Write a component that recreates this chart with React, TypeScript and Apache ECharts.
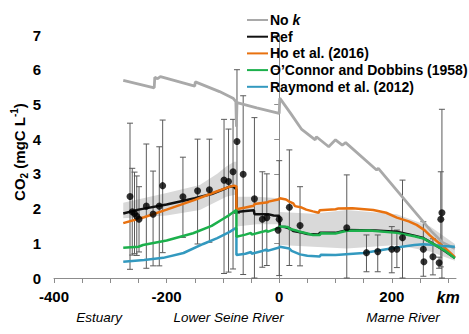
import React, { useEffect, useRef } from "react";
import * as echarts from "echarts";

const FONT = "'Liberation Sans', Arial, Helvetica, sans-serif";

const seriesNames = ["No k", "Ref", "Ho et al. (2016)", "O\u2019Connor and Dobbins (1958)", "Raymond et al. (2012)"];
const seriesColors = ["#a9a9a9", "#111111", "#e8710f", "#1cb04c", "#3399bf"];

const xTicks = [-400, -350, -300, -250, -200, -150, -100, -50, 0, 50, 100, 150, 200, 250, 300];
const xLabels = [-400, -200, 0, 200, 300];
const regionLabels = ["Estuary", "Lower Seine River", "Marne River"];
const regionKm = [-320, -90, 220];

const noK = [
  [-277, 5.69], [-222, 5.48], [-221, 5.78], [-216, 5.74], [-211, 5.8], [-150, 5.53], [-149, 5.65],
  [-106, 5.37], [-82, 5.18], [-77, 5.08], [-76, 4.36], [-75, 5.05], [-40, 4.9], [0, 4.74], [1, 5.18],
  [20, 4.75], [40, 4.28], [64, 3.98], [66, 4.07], [88, 3.78], [90, 3.82], [100, 3.98], [112, 3.83],
  [118, 3.9], [173, 3.11], [176, 3.16], [238, 1.96], [270, 1.35], [290, 1.02], [312, 0.85],
];
const ref = [
  [-277, 1.86], [-250, 1.97], [-200, 2.12], [-150, 2.3], [-120, 2.42], [-100, 2.55], [-90, 2.62],
  [-82, 2.64], [-78, 2.58], [-76, 2.55], [-76, 1.9], [-60, 1.93], [-45, 1.95], [-44, 1.84], [-20, 1.84],
  [-10, 1.8], [0, 1.79], [1, 1.48], [10, 1.47], [20, 1.42], [25, 1.35], [40, 1.31], [50, 1.27],
  [70, 1.25], [72, 1.3], [100, 1.3], [120, 1.38], [170, 1.37], [209, 1.33], [240, 1.22], [256, 1.15],
  [270, 1.02], [290, 0.82], [312, 0.58],
];
const ho = [
  [-277, 1.58], [-240, 1.75], [-200, 1.97], [-150, 2.25], [-110, 2.5], [-90, 2.62], [-80, 2.66],
  [-76, 2.64], [-76, 1.98], [-60, 2.03], [-45, 2.08], [-44, 2.13], [-20, 2.18], [-19, 2.2], [0, 2.27],
  [1, 2.3], [12, 2.26], [18, 2.2], [25, 2.15], [28, 2.07], [40, 2.03], [48, 1.97], [60, 1.92],
  [70, 1.88], [72, 1.95], [100, 1.98], [105, 2.0], [130, 2.01], [167, 1.96], [190, 1.88], [209, 1.74],
  [230, 1.63], [244, 1.53], [258, 1.38], [268, 1.22], [280, 1.06], [292, 0.9], [312, 0.6],
];
const oConnor = [
  [-277, 0.87], [-250, 0.9], [-242, 0.95], [-200, 1.08], [-153, 1.29], [-120, 1.5], [-100, 1.7],
  [-88, 1.82], [-78, 1.94], [-76, 1.96], [-76, 1.19], [-60, 1.25], [-50, 1.3], [-49, 1.25], [-30, 1.33],
  [-22, 1.37], [-21, 1.33], [0, 1.45], [1, 1.48], [15, 1.47], [18, 1.42], [30, 1.37], [37, 1.33],
  [50, 1.28], [60, 1.24], [72, 1.24], [74, 1.29], [100, 1.28], [120, 1.36], [160, 1.37], [209, 1.3],
  [240, 1.2], [256, 1.14], [275, 0.97], [295, 0.78], [312, 0.57],
];
const raymond = [
  [-277, 0.47], [-240, 0.52], [-206, 0.58], [-170, 0.72], [-135, 0.98], [-110, 1.15], [-88, 1.33],
  [-78, 1.43], [-76, 1.44], [-76, 0.66], [-60, 0.7], [-50, 0.75], [-49, 0.7], [-30, 0.78], [-22, 0.82],
  [-21, 0.78], [0, 0.88], [1, 0.9], [18, 0.85], [22, 0.78], [37, 0.68], [50, 0.64], [72, 0.62],
  [74, 0.67], [100, 0.66], [150, 0.72], [209, 0.88], [240, 0.95], [256, 0.97], [270, 0.96],
  [290, 0.92], [312, 0.9],
];
const bandUpper = [
  [-277, 2.17], [-200, 2.45], [-141, 2.68], [-110, 3.0], [-94, 3.21], [-80, 3.35], [-76, 3.35],
  [-76, 2.34], [-40, 2.34], [0, 2.3], [1, 1.9], [60, 1.85], [120, 1.96], [209, 1.84], [268, 1.48],
  [312, 0.98],
];
const bandLower = [
  [-277, 1.72], [-200, 1.8], [-141, 1.96], [-94, 2.34], [-78, 2.4], [-76, 2.4], [-76, 1.48],
  [-40, 1.55], [0, 1.55], [1, 0.95], [60, 0.9], [120, 0.85], [209, 0.95], [268, 0.76], [312, 0.5],
];
const obs = [
  [-265, 2.35], [-261, 1.91], [-257, 1.86], [-253, 1.78], [-249, 1.69], [-236, 2.07], [-224, 1.84],
  [-213, 2.07], [-207, 2.66], [-171, 2.34], [-145, 2.51], [-124, 2.54], [-98, 2.82], [-90, 2.78],
  [-82, 3.06], [-75, 3.93], [-64, 2.99], [-44, 2.28], [-30, 1.69], [-22, 1.74], [0, 1.69], [-2, 1.38],
  [18, 2.04], [37, 1.51], [120, 1.45], [155, 0.73], [175, 0.76], [200, 0.83], [209, 0.83],
  [219, 1.16], [256, 0.83], [257, 0.47], [273, 0.61], [284, 0.44], [287, 1.69], [289, 1.88],
];
const errBars = [
  [-265, 0.25, 4.46], [-261, 0.66, 3.16], [-257, 0.7, 3.05], [-253, 0.65, 2.94], [-249, 0.75, 2.63],
  [-236, 0.28, 3.86], [-224, 0.35, 3.08], [-213, 0.35, 3.78], [-207, 0.73, 4.55], [-171, 1.17, 3.48],
  [-145, 0.98, 4.0], [-124, 1.03, 4.0], [-98, 0.13, 4.57], [-90, 0.17, 4.29], [-82, 0.26, 4.57],
  [-75, 1.86, 6.0], [-64, 0.1, 5.25], [-44, 0.0, 4.62], [-30, 0.31, 3.06], [-22, 0.36, 3.0],
  [0, 0.07, 3.38], [18, 0.36, 3.69], [37, 0.35, 2.63], [120, 0.0, 2.97], [155, 0.18, 1.24],
  [175, 0.18, 1.24], [200, 0.15, 1.48], [209, 0.3, 1.38], [219, 0.0, 2.82], [256, 0.05, 1.62],
  [273, 0.09, 1.13], [284, 0.28, 0.6], [287, 0.32, 3.06], [289, 0.0, 4.86],
];

const lineData = [noK, ref, ho, oConnor, raymond];

export default function App() {
  const ref1 = useRef<HTMLDivElement>(null);
  useEffect(() => {
    if (!ref1.current) return;
    const chart = echarts.init(ref1.current, null, { renderer: "svg" });
    const lineSeries = seriesNames.map((name, i) => ({
      type: "line",
      name,
      data: lineData[i],
      showSymbol: false,
      symbol: "none",
      lineStyle: { color: seriesColors[i], width: i === 0 ? 2.8 : 2.5 },
      itemStyle: { color: seriesColors[i] },
      z: i === 3 ? 6 : 5,
    }));
    const option: any = {
      animation: false,
      textStyle: { fontFamily: FONT },
      grid: { left: 54, right: 13, top: 35, bottom: 56 },
      legend: {
        data: seriesNames.map((n) => ({ name: n, icon: "rect" })),
        orient: "vertical",
        left: 242,
        top: 8,
        itemWidth: 21,
        itemHeight: 2,
        itemGap: 2.7,
        textStyle: {
          fontFamily: FONT,
          fontSize: 14,
          fontWeight: "bold",
          color: "#000",
          lineHeight: 14,
          padding: [0, 0, 0, -3],
          rich: { i: { fontFamily: FONT, fontSize: 14, fontWeight: "bold", fontStyle: "italic", color: "#000" } },
        },
        formatter: (n: string) => (n === "No k" ? "No {i|k}" : n),
      },
      xAxis: {
        type: "value",
        min: -400,
        max: 314,
        interval: 50,
        splitLine: { show: false },
        axisLine: { lineStyle: { color: "#8c8c8c", width: 1 } },
        axisTick: { show: true, length: 5, lineStyle: { color: "#8c8c8c" }, customValues: xTicks },
        axisLabel: {
          customValues: xLabels,
          margin: 11,
          fontFamily: FONT,
          fontSize: 15,
          fontWeight: "bold",
          color: "#000",
          formatter: (v: number) => (v === 300 ? "{k|km}" : String(v)),
          rich: { k: { fontFamily: FONT, fontSize: 16, fontWeight: "bold", fontStyle: "italic", color: "#000" } },
        },
      },
      yAxis: {
        type: "value",
        min: 0,
        max: 7,
        interval: 1,
        splitLine: { show: false },
        axisLine: { show: true, lineStyle: { color: "#8c8c8c", width: 1 } },
        axisTick: { show: true, length: 5, lineStyle: { color: "#8c8c8c" } },
        axisLabel: { margin: 13, fontFamily: FONT, fontSize: 15, fontWeight: "bold", color: "#000" },
      },
      graphic: [
        {
          type: "text",
          x: 19,
          y: 152,
          rotation: Math.PI / 2,
          style: {
            text: "{m|CO}{s|2}{m| (mgC L}{p|-1}{m|)}",
            align: "center",
            verticalAlign: "middle",
            rich: {
              m: { fontFamily: FONT, fontSize: 15, fontWeight: "bold", fill: "#000", lineHeight: 20 },
              s: { fontFamily: FONT, fontSize: 10, fontWeight: "bold", fill: "#000", verticalAlign: "bottom", lineHeight: 12 },
              p: { fontFamily: FONT, fontSize: 10, fontWeight: "bold", fill: "#000", verticalAlign: "top", lineHeight: 12 },
            },
          },
        },
      ],
      series: [
        {
          type: "custom",
          name: "band",
          data: bandUpper,
          encode: { x: 0, y: 1 },
          silent: true,
          z: 1,
          renderItem: (params: any, api: any) => {
            if (params.dataIndex !== 0) return null;
            const pts = [
              ...bandUpper.map((p) => api.coord(p)),
              ...bandLower.slice().reverse().map((p) => api.coord(p)),
            ];
            return { type: "polygon", shape: { points: pts }, style: { fill: "#d9d9d9" } };
          },
        },
        {
          type: "custom",
          name: "err",
          data: errBars,
          encode: { x: 0, y: [1, 2] },
          silent: true,
          z: 2,
          renderItem: (params: any, api: any) => {
            const x = api.value(0);
            const pLo = api.coord([x, api.value(1)]);
            const pHi = api.coord([x, api.value(2)]);
            const w = 3;
            const style = { stroke: "#5a5a5a", lineWidth: 1 };
            return {
              type: "group",
              children: [
                { type: "line", shape: { x1: pLo[0], y1: pLo[1], x2: pHi[0], y2: pHi[1] }, style },
                { type: "line", shape: { x1: pHi[0] - w, y1: pHi[1], x2: pHi[0] + w, y2: pHi[1] }, style },
                { type: "line", shape: { x1: pLo[0] - w, y1: pLo[1], x2: pLo[0] + w, y2: pLo[1] }, style },
              ],
            };
          },
        },
        ...lineSeries,
        {
          type: "scatter",
          name: "obs",
          data: obs,
          symbol: "circle",
          symbolSize: 7,
          itemStyle: { color: "#000" },
          z: 10,
        },
      ],
    };
    chart.setOption(option);
    const gfx = regionLabels.map((t, i) => {
      const p = chart.convertToPixel({ gridIndex: 0 }, [regionKm[i], 0]);
      return {
        type: "text",
        x: p[0],
        y: 317,
        style: {
          text: t,
          align: "center",
          verticalAlign: "middle",
          fontFamily: FONT,
          fontSize: 13.5,
          fontStyle: "italic",
          fill: "#000",
        },
      };
    });
    chart.setOption({ graphic: [option.graphic[0], ...gfx] });
    return () => chart.dispose();
  }, []);
  return <div ref={ref1} style={{ position: "absolute", left: 0, top: 0, width: 469, height: 334 }} />;
}
